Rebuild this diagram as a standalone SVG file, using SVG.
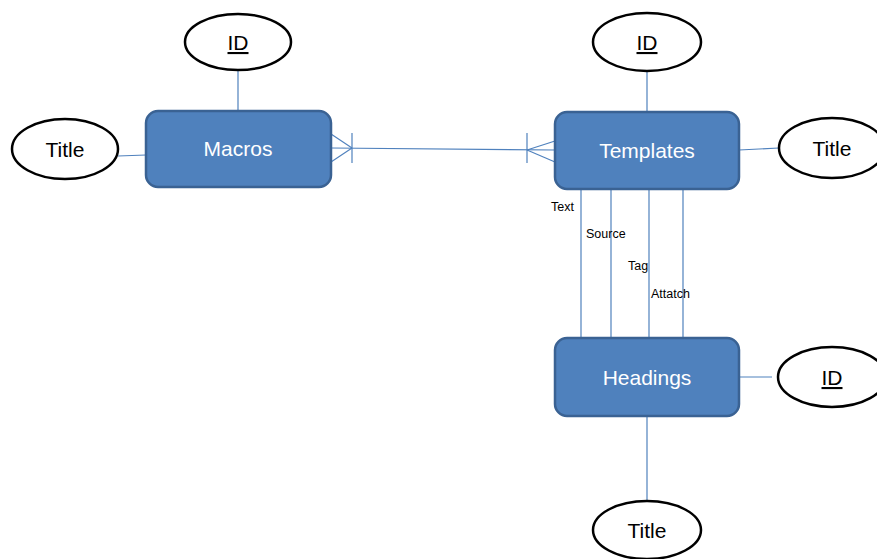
<svg xmlns="http://www.w3.org/2000/svg" width="877" height="559" viewBox="0 0 877 559">
<style>
.ent{fill:#4F81BD;stroke:#3A6293;stroke-width:2.5}
.entt{fill:#ffffff;font-family:"Liberation Sans",Arial,sans-serif;font-size:21px;text-anchor:middle}
.att{fill:#ffffff;stroke:#000000;stroke-width:2.5}
.attt{fill:#000000;font-family:"Liberation Sans",Arial,sans-serif;font-size:21px;text-anchor:middle}
.key{text-decoration:underline}
.con{stroke:#4F81BD;stroke-width:1.2;fill:none}
.lbl{fill:#000000;font-family:"Liberation Sans",Arial,sans-serif;font-size:12.5px}
</style>
<rect width="877" height="559" fill="#ffffff"/>
<g id="connectors">
<line class="con" x1="238" y1="70" x2="238" y2="111"/>
<line class="con" x1="118" y1="156" x2="146" y2="155"/>
<line class="con" x1="647" y1="72" x2="647" y2="112"/>
<line class="con" x1="739" y1="150" x2="779" y2="148"/>
<line class="con" x1="739" y1="377" x2="772" y2="377"/>
<line class="con" x1="647" y1="416" x2="647" y2="500"/>
<g id="rel-macros-templates">
<line class="con" x1="331" y1="148" x2="555" y2="150"/>
<line class="con" x1="331" y1="134" x2="352" y2="148"/>
<line class="con" x1="331" y1="162" x2="352" y2="148"/>
<line class="con" x1="352" y1="133" x2="352" y2="163"/>
<line class="con" x1="555" y1="141" x2="527" y2="150"/>
<line class="con" x1="555" y1="162" x2="527" y2="150"/>
<line class="con" x1="527" y1="133" x2="527" y2="163"/>
</g>
<line class="con" x1="581" y1="189" x2="581" y2="338"/>
<line class="con" x1="611" y1="189" x2="611" y2="338"/>
<line class="con" x1="649" y1="189" x2="649" y2="338"/>
<line class="con" x1="683" y1="189" x2="683" y2="338"/>
<text class="lbl" x="551" y="211">Text</text>
<text class="lbl" x="586" y="238">Source</text>
<text class="lbl" x="628" y="270">Tag</text>
<text class="lbl" x="651" y="298">Attatch</text>
</g>
<g id="macros">
<rect class="ent" x="146" y="111" width="185" height="76" rx="12"/>
<text class="entt" x="238" y="156">Macros</text>
</g>
<g id="templates">
<rect class="ent" x="555" y="112" width="184" height="77" rx="12"/>
<text class="entt" x="647" y="158">Templates</text>
</g>
<g id="headings">
<rect class="ent" x="555" y="338" width="184" height="78" rx="12"/>
<text class="entt" x="647" y="385">Headings</text>
</g>
<g id="macros-id">
<ellipse class="att" cx="238" cy="42" rx="53" ry="28"/>
<text class="attt key" x="238" y="50">ID</text>
</g>
<g id="macros-title">
<ellipse class="att" cx="65" cy="149" rx="53" ry="30"/>
<text class="attt" x="65" y="157">Title</text>
</g>
<g id="templates-id">
<ellipse class="att" cx="647" cy="42" rx="54" ry="29"/>
<text class="attt key" x="647" y="50">ID</text>
</g>
<g id="templates-title">
<ellipse class="att" cx="832" cy="148" rx="53" ry="30"/>
<text class="attt" x="832" y="156">Title</text>
</g>
<g id="headings-id">
<ellipse class="att" cx="832" cy="377" rx="54" ry="30"/>
<text class="attt key" x="832" y="385">ID</text>
</g>
<g id="headings-title">
<ellipse class="att" cx="647" cy="530" rx="54" ry="29"/>
<text class="attt" x="647" y="538">Title</text>
</g>
</svg>
